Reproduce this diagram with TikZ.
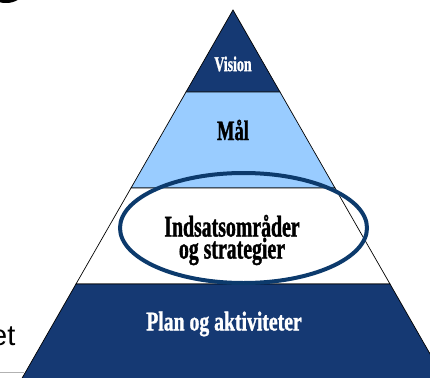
\documentclass[tikz,border=0pt]{standalone}
\usetikzlibrary{shapes.geometric}
\usepackage{fontspec}
\newfontfamily\condfont[FakeStretch=0.66,FakeBold=1.2]{Liberation Serif}
\newfontfamily\condfontB[FakeStretch=0.73,FakeBold=1.2]{Liberation Serif}
\newfontfamily\sansfont{Liberation Sans}
\definecolor{navy}{RGB}{21,57,115}
\definecolor{ringblue}{RGB}{12,58,108}
\definecolor{skyblue}{RGB}{153,204,255}
\tikzset{
  band/.style={draw=black, line width=0.7pt},
  lbl/.style={align=center, inner sep=0pt, font=\condfont\bfseries},
}
\begin{document}
\begin{tikzpicture}[x=1pt,y=-1pt]
\useasboundingbox (0,0) rectangle (430,377);
\begin{scope}
\clip (0,0) rectangle (430,377);
\fill[white] (0,0) rectangle (430,377);
% partial black glyph at top left
\fill[black] (6,-8) ellipse (17 and 11);
% pyramid bands
\coordinate (apex) at (233,10);
\coordinate (l1) at (186,92);  \coordinate (r1) at (280,92);
\coordinate (l2) at (131,188); \coordinate (r2) at (335,188);
\coordinate (l3) at (76,284);  \coordinate (r3) at (390,284);
\coordinate (l4) at (21,380);  \coordinate (r4) at (445,380);
\filldraw[band, fill=navy] (apex) -- (r1) -- (l1) -- cycle;
\filldraw[band, fill=skyblue] (l1) -- (r1) -- (r2) -- (l2) -- cycle;
\filldraw[band, fill=white] (l2) -- (r2) -- (r3) -- (l3) -- cycle;
\filldraw[band, fill=navy] (l3) -- (r3) -- (r4) -- (l4) -- cycle;
% side text and rule
\node[font=\sansfont, anchor=base east, inner sep=0pt, scale=2.9] (et) at (16,345) {et};
\draw[gray!60, line width=1pt] (0,372) -- (24,372);
% labels
\node[lbl, text=white, font=\condfont\bfseries\fontsize{21}{22}\selectfont] (vision) at (233,64) {Vision};
\node[lbl, text=black, font=\condfont\bfseries\fontsize{28}{28}\selectfont] (maal) at (233,130) {Mål};
\node[lbl, text=black, font=\condfont\bfseries\fontsize{30}{22}\selectfont] (inds) at (232,240) {Indsatsområder\\og strategier};
\node[lbl, text=white, font=\condfontB\bfseries\fontsize{27}{28}\selectfont] (plan) at (224,324) {Plan og aktiviteter};
% highlight ring
\node[draw=ringblue, line width=4pt, ellipse, minimum width=247pt, minimum height=110pt, inner sep=0pt] (ring) at (243.5,228) {};
\end{scope}
\end{tikzpicture}
\end{document}
